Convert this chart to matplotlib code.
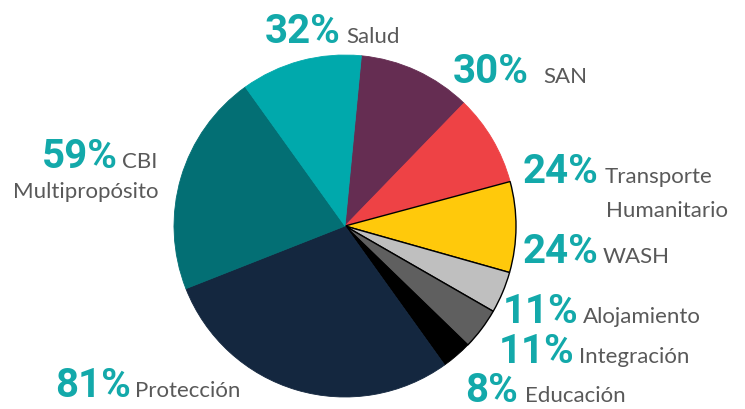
import matplotlib
matplotlib.use('Agg')
from matplotlib import pyplot as plt

# sectores, en el orden de las agujas del reloj desde arriba
categorias = ['SAN', 'Transporte\nHumanitario', 'WASH', 'Alojamiento', 'Integración',
              'Educación', 'Protección', 'CBI\nMultipropósito', 'Salud']
porcentajes = [30, 24, 24, 11, 11, 8, 81, 59, 32]
colores = ['#652D52', '#EE4245', '#FFC90B', '#BFBFBF', '#5F5F5F',
           '#000000', '#14273F', '#036F74', '#00A9AC']
con_borde = ['WASH', 'Alojamiento', 'Integración']

# posiciones de las etiquetas en pixeles (x izquierda, linea base desde arriba)
pos_pct = {'SAN': (453, 83), 'Transporte\nHumanitario': (523, 183), 'WASH': (523, 263),
           'Alojamiento': (503, 323), 'Integración': (499, 363), 'Educación': (465, 402),
           'Protección': (55, 397), 'CBI\nMultipropósito': (42, 168), 'Salud': (265, 43)}
pos_txt = {'SAN': [(543, 83)], 'Transporte\nHumanitario': [(605, 183), (606, 217)],
           'WASH': [(598, 263)], 'Alojamiento': [(570, 323)], 'Integración': [(562, 363)],
           'Educación': [(525, 402)], 'Protección': [(126, 397)],
           'CBI\nMultipropósito': [(122, 168), (13, 198)], 'Salud': [(346, 43)]}

W, H = 745, 410
fig = plt.figure(figsize=(W / 100, H / 100), dpi=100)
ax = fig.add_axes([0, 0, 1, 1])

cuñas, _ = ax.pie(porcentajes, colors=colores, startangle=84.5, counterclock=False,
                  center=(345, H - 227), radius=171, frame=True,
                  wedgeprops=dict(linewidth=0.6))
for c, cat, col in zip(cuñas, categorias, colores):
    if cat in con_borde:
        c.set_edgecolor('black')
        c.set_linewidth(1.0)
    else:
        c.set_edgecolor(col)

ax.set_xlim(0, W)
ax.set_ylim(0, H)
ax.set_aspect('equal')
ax.axis('off')

verde = '#13A9AA'
gris = '#595959'
fuente_pct = ['Roboto', 'DejaVu Sans']
fuente_txt = ['Lato', 'DejaVu Sans']

r = fig.canvas.get_renderer()
for cat, v in zip(categorias, porcentajes):
    x, y = pos_pct[cat]
    t = ax.text(x, H - y, f'{v}%', color=verde, fontsize=29, fontweight='bold',
                family=fuente_pct, ha='left', va='baseline')
    fin = ax.transData.inverted().transform(t.get_window_extent(r))[1][0]
    for i, (linea, (lx, ly)) in enumerate(zip(cat.split('\n'), pos_txt[cat])):
        if i == 0:
            lx = max(lx, fin + 4)
        ax.text(lx, H - ly, linea, color=gris, fontsize=16, family=fuente_txt,
                ha='left', va='baseline')

fig.savefig('out.png', dpi=100)
